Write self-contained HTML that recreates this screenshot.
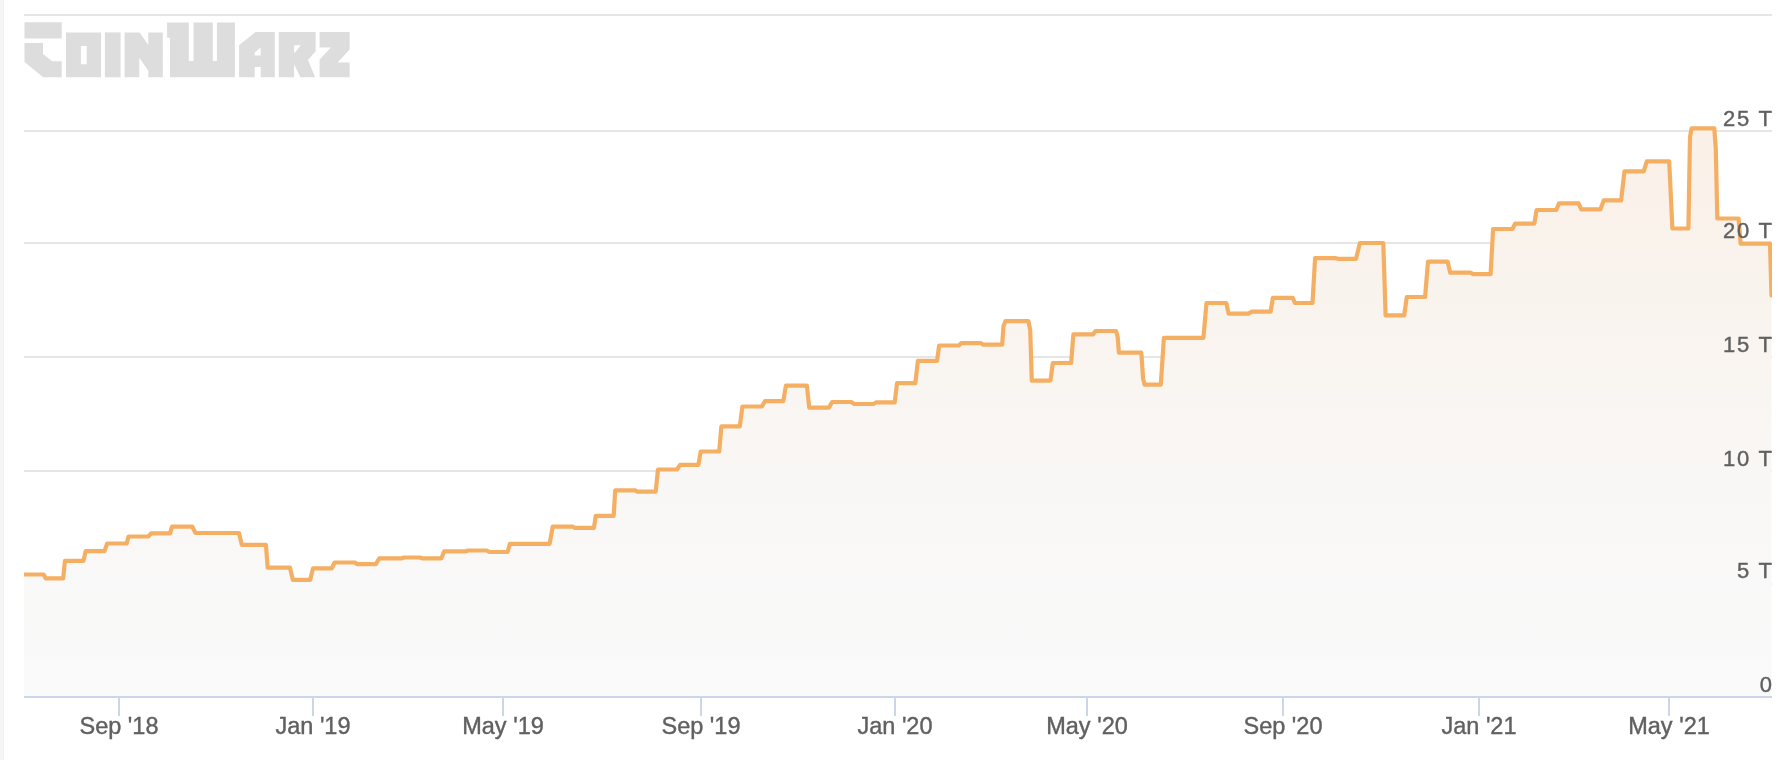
<!DOCTYPE html>
<html><head><meta charset="utf-8"><style>
html,body{margin:0;padding:0;width:1792px;height:760px;overflow:hidden;background:#fff;}
svg{position:absolute;left:0;top:0;display:block;will-change:transform;}
text{font-family:"Liberation Sans",sans-serif;font-size:23.5px;fill:#606060;stroke:#606060;stroke-width:0.4px;}
</style></head><body>
<svg width="1792" height="760" viewBox="0 0 1792 760">
<defs>
<linearGradient id="g" gradientUnits="userSpaceOnUse" x1="0" y1="128" x2="0" y2="697">
<stop offset="0" stop-color="#faf0e7"/>
<stop offset="0.35" stop-color="#f9f4ef"/>
<stop offset="0.68" stop-color="#f9f8f7"/>
<stop offset="1" stop-color="#fafafa"/>
</linearGradient>
<clipPath id="c"><rect x="24" y="0" width="1748" height="697"/></clipPath>
</defs>
<rect x="0" y="0" width="4" height="760" fill="#f5f5f5"/><rect x="3" y="0" width="1" height="760" fill="#f0f0f0"/>
<g fill="#dddddd">
<polygon points="24.5,22.3 61.7,22.3 61.7,38.6 24.5,38.6"/>
<polygon points="24.5,43.1 43,43.1 43,53.9 52.3,61.2 61.7,61.2 61.7,77.3 43.2,77.3 24.5,62.1"/>
<path fill-rule="evenodd" d="M66 32.4 H101.1 V77.3 H66 Z M80.9 46 V64.2 H86.7 V46 Z"/>
<polygon points="104.9,32.4 120.6,32.4 120.6,77.3 104.9,77.3"/>
<polygon points="124.6,32.4 139.7,32.4 148.3,45 148.3,32.4 162.8,32.4 162.8,77.3 148.3,77.3 148.3,70.7 139.3,57.8 139.3,77.3 124.6,77.3"/>
<polygon points="167.1,22.6 188.8,22.6 188.8,61 193.5,61 193.5,22.6 212.8,22.6 212.8,61 216.9,61 216.9,22.6 234.9,22.6 234.9,77.3 170,77.3 170,37.8 167.1,37.8"/>
<path fill-rule="evenodd" d="M239.1 45.2 L255.5 32.1 H274.8 V77.3 H260.7 V67 H254.7 V77.3 H239.1 Z M254.7 52.4 L260.7 47.4 V55.5 H254.7 Z"/>
<path fill-rule="evenodd" d="M278.8 32.1 H315.6 V51.2 L308 59.9 L315.1 77.3 H300.4 L294.1 64.2 V77.3 H278.8 Z M294.1 45.2 H300.9 L294.1 53.4 Z"/>
<polygon points="319.6,32.1 349.6,32.1 349.6,49.6 337.6,62.4 349.6,62.4 349.6,77.3 319.6,77.3 319.6,59.6 331,47.6 319.6,47.6"/>
</g>
<rect x="24" y="14" width="1748" height="2" fill="#e6e6e6"/>
<rect x="24" y="130" width="1748" height="2" fill="#e6e6e6"/>
<rect x="24" y="242" width="1748" height="2" fill="#e6e6e6"/>
<rect x="24" y="356" width="1748" height="2" fill="#e6e6e6"/>
<rect x="24" y="470" width="1748" height="2" fill="#e6e6e6"/>
<rect x="24" y="583" width="1748" height="2" fill="#e6e6e6"/>
<path d="M24 574.5 L43.7 574.5 L45.8 578.4 L63.2 578.4 L64.9 560.9 L83.5 560.9 L85.6 551.2 L104.4 551.2 L107.2 543.5 L126.7 543.5 L128.5 536.5 L148.3 536.5 L151.1 533.4 L170 533.4 L172 526.7 L192.3 526.7 L195.5 533 L239 533 L241.8 544.8 L265.9 544.8 L267.7 567.7 L290 567.7 L292.8 579.8 L310.2 579.8 L313 568.4 L331.8 568.4 L334.6 562.5 L354.9 562.5 L357 564.2 L375.8 564.2 L379.3 558.3 L402 558.3 L404 557.5 L420 557.5 L422 558.3 L441.4 558.3 L444.2 551.3 L466 551.3 L468 550.5 L486.7 550.5 L489.5 552 L507.6 552 L509.9 543.8 L549.6 543.8 L552.7 526.7 L572.5 526.7 L574.8 527.8 L593.9 527.8 L595.8 515.9 L613.7 515.9 L615.2 490.4 L635.1 490.4 L637.4 491.6 L655.7 491.6 L658 469.5 L677 469.5 L680.1 464.9 L698.4 464.9 L700.7 451.5 L719.2 451.5 L721.4 426.4 L739.8 426.4 L742.4 406.5 L761.9 406.5 L764.9 401.2 L783.3 401.2 L785.9 385.6 L806.9 385.6 L809.2 407.6 L829 407.6 L832.1 402 L851.2 402 L854.2 404 L873.3 404 L876.4 402.4 L894.7 402.4 L897 383.2 L915.3 383.2 L917.9 360.8 L937.1 360.8 L939.1 345.5 L958.9 345.5 L961.2 343.2 L981 343.2 L983.3 344.7 L1002.2 344.7 L1003.5 326 L1005.5 321.1 L1028.4 321.1 L1030.2 330 L1031.8 380.6 L1050.5 380.6 L1052.8 363 L1071.1 363 L1073.4 334.3 L1093.2 334.3 L1095.5 331 L1116.1 331 L1117.7 337 L1118.9 352.7 L1141.3 352.7 L1143.1 378.5 L1144.6 384.7 L1160.8 384.7 L1163.9 337.8 L1203.4 337.8 L1206.5 303 L1226.3 303 L1228.6 313.6 L1248.4 313.6 L1251.5 311.7 L1270.6 311.7 L1272.9 297.9 L1292.7 297.9 L1295 303 L1312.5 303 L1315.1 258.2 L1336 258.2 L1338 258.8 L1356 258.8 L1359.9 243 L1383.3 243 L1385.6 315.4 L1404.2 315.4 L1406.8 297 L1425.1 297 L1428 261.6 L1447.6 261.6 L1450.2 272.7 L1470.4 272.7 L1473.1 274.1 L1490.6 274.1 L1493.1 229 L1512.4 229 L1515.1 223.6 L1534.3 223.6 L1536.6 210 L1556.3 210 L1559 203.4 L1578.6 203.4 L1581.3 209.3 L1600.5 209.3 L1603.7 200.4 L1621.1 200.4 L1624.5 171.3 L1643.7 171.3 L1646.8 161.3 L1669.2 161.3 L1672.4 228.5 L1688.4 228.5 L1690 137 L1691.6 128.4 L1714.3 128.4 L1715.8 149 L1717.3 218.5 L1738.6 218.5 L1740.6 243.7 L1770 243.7 L1771.5 295.5 L1771.5 697 L24 697 Z" fill="url(#g)"/>
<path clip-path="url(#c)" d="M24 574.5 L43.7 574.5 L45.8 578.4 L63.2 578.4 L64.9 560.9 L83.5 560.9 L85.6 551.2 L104.4 551.2 L107.2 543.5 L126.7 543.5 L128.5 536.5 L148.3 536.5 L151.1 533.4 L170 533.4 L172 526.7 L192.3 526.7 L195.5 533 L239 533 L241.8 544.8 L265.9 544.8 L267.7 567.7 L290 567.7 L292.8 579.8 L310.2 579.8 L313 568.4 L331.8 568.4 L334.6 562.5 L354.9 562.5 L357 564.2 L375.8 564.2 L379.3 558.3 L402 558.3 L404 557.5 L420 557.5 L422 558.3 L441.4 558.3 L444.2 551.3 L466 551.3 L468 550.5 L486.7 550.5 L489.5 552 L507.6 552 L509.9 543.8 L549.6 543.8 L552.7 526.7 L572.5 526.7 L574.8 527.8 L593.9 527.8 L595.8 515.9 L613.7 515.9 L615.2 490.4 L635.1 490.4 L637.4 491.6 L655.7 491.6 L658 469.5 L677 469.5 L680.1 464.9 L698.4 464.9 L700.7 451.5 L719.2 451.5 L721.4 426.4 L739.8 426.4 L742.4 406.5 L761.9 406.5 L764.9 401.2 L783.3 401.2 L785.9 385.6 L806.9 385.6 L809.2 407.6 L829 407.6 L832.1 402 L851.2 402 L854.2 404 L873.3 404 L876.4 402.4 L894.7 402.4 L897 383.2 L915.3 383.2 L917.9 360.8 L937.1 360.8 L939.1 345.5 L958.9 345.5 L961.2 343.2 L981 343.2 L983.3 344.7 L1002.2 344.7 L1003.5 326 L1005.5 321.1 L1028.4 321.1 L1030.2 330 L1031.8 380.6 L1050.5 380.6 L1052.8 363 L1071.1 363 L1073.4 334.3 L1093.2 334.3 L1095.5 331 L1116.1 331 L1117.7 337 L1118.9 352.7 L1141.3 352.7 L1143.1 378.5 L1144.6 384.7 L1160.8 384.7 L1163.9 337.8 L1203.4 337.8 L1206.5 303 L1226.3 303 L1228.6 313.6 L1248.4 313.6 L1251.5 311.7 L1270.6 311.7 L1272.9 297.9 L1292.7 297.9 L1295 303 L1312.5 303 L1315.1 258.2 L1336 258.2 L1338 258.8 L1356 258.8 L1359.9 243 L1383.3 243 L1385.6 315.4 L1404.2 315.4 L1406.8 297 L1425.1 297 L1428 261.6 L1447.6 261.6 L1450.2 272.7 L1470.4 272.7 L1473.1 274.1 L1490.6 274.1 L1493.1 229 L1512.4 229 L1515.1 223.6 L1534.3 223.6 L1536.6 210 L1556.3 210 L1559 203.4 L1578.6 203.4 L1581.3 209.3 L1600.5 209.3 L1603.7 200.4 L1621.1 200.4 L1624.5 171.3 L1643.7 171.3 L1646.8 161.3 L1669.2 161.3 L1672.4 228.5 L1688.4 228.5 L1690 137 L1691.6 128.4 L1714.3 128.4 L1715.8 149 L1717.3 218.5 L1738.6 218.5 L1740.6 243.7 L1770 243.7 L1771.5 295.5" fill="none" stroke="#f5af63" stroke-width="4.2" stroke-linejoin="round" stroke-linecap="round"/>
<rect x="24" y="696" width="1748" height="2" fill="#ccd6eb"/>
<rect x="118" y="698" width="2" height="18" fill="#ccd6eb"/>
<text x="119" y="734" text-anchor="middle">Sep &#39;18</text>
<rect x="312" y="698" width="2" height="18" fill="#ccd6eb"/>
<text x="313" y="734" text-anchor="middle">Jan &#39;19</text>
<rect x="502" y="698" width="2" height="18" fill="#ccd6eb"/>
<text x="503" y="734" text-anchor="middle">May &#39;19</text>
<rect x="700" y="698" width="2" height="18" fill="#ccd6eb"/>
<text x="701" y="734" text-anchor="middle">Sep &#39;19</text>
<rect x="894" y="698" width="2" height="18" fill="#ccd6eb"/>
<text x="895" y="734" text-anchor="middle">Jan &#39;20</text>
<rect x="1086" y="698" width="2" height="18" fill="#ccd6eb"/>
<text x="1087" y="734" text-anchor="middle">May &#39;20</text>
<rect x="1282" y="698" width="2" height="18" fill="#ccd6eb"/>
<text x="1283" y="734" text-anchor="middle">Sep &#39;20</text>
<rect x="1478" y="698" width="2" height="18" fill="#ccd6eb"/>
<text x="1479" y="734" text-anchor="middle">Jan &#39;21</text>
<rect x="1668" y="698" width="2" height="18" fill="#ccd6eb"/>
<text x="1669" y="734" text-anchor="middle">May &#39;21</text>
<text x="1773.8" y="126" text-anchor="end" style="font-size:22px;letter-spacing:1.8px">25 T</text>
<text x="1773.8" y="238" text-anchor="end" style="font-size:22px;letter-spacing:1.8px">20 T</text>
<text x="1773.8" y="351.8" text-anchor="end" style="font-size:22px;letter-spacing:1.8px">15 T</text>
<text x="1773.8" y="465.8" text-anchor="end" style="font-size:22px;letter-spacing:1.8px">10 T</text>
<text x="1773.8" y="578.2" text-anchor="end" style="font-size:22px;letter-spacing:1.8px">5 T</text>
<text x="1773.8" y="691.7" text-anchor="end" style="font-size:22px;letter-spacing:1.8px">0</text>
</svg>
</body></html>
